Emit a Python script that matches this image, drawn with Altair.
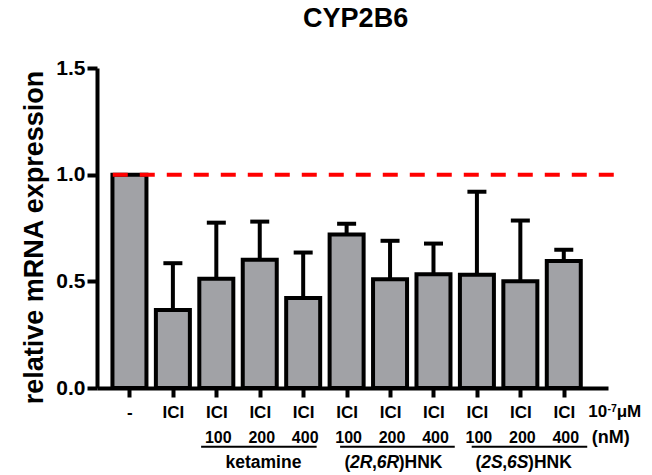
import json
import altair as alt
import pandas as pd

# ---------------- data ----------------
treatments = ["-", "ICI", "ICI", "ICI", "ICI", "ICI", "ICI", "ICI", "ICI", "ICI", "ICI"]
doses_nM = ["", "", "100", "200", "400", "100", "200", "400", "100", "200", "400"]
mean_expr = [1.00, 0.366, 0.512, 0.601, 0.422, 0.720, 0.510, 0.533, 0.531, 0.500, 0.595]
upper_err = [None, 0.585, 0.775, 0.780, 0.635, 0.770, 0.690, 0.677, 0.920, 0.785, 0.648]

group_names = ["ketamine", "(2R,6R)HNK", "(2S,6S)HNK"]
# (text piece, italic?) for each group label
group_segments = [
    [("ketamine", False)],
    [("(", False), ("2R", True), (",", False), ("6R", True), (")HNK", False)],
    [("(", False), ("2S", True), (",", False), ("6S", True), (")HNK", False)],
]
group_mid_bar = [3, 6, 9]
group_line_start = [1.65, 4.85, 7.88]
group_line_end = [4.31, 7.49, 10.54]

reference_level = 1.0
unit_row_text = ["10", "-7", "\u03bcM"]
dose_unit_text = "(nM)"
title_text = "CYP2B6"
y_title = "relative mRNA expression"

# ---------------- layout / style ----------------
FONT = "Liberation Sans"
W, H = 511, 320
X_DOMAIN = [-0.632, 10.903]
PX = W / (X_DOMAIN[1] - X_DOMAIN[0])   # pixels per bar step
BAR_FILL = "#a1a2a6"

# Arial/Liberation bold advance widths (per 1000 em)
ADV = {"(": 333, ")": 333, ",": 278, "2": 556, "6": 556, "R": 722, "S": 667,
       "H": 722, "N": 722, "K": 722, "k": 556, "e": 556, "t": 333, "a": 556,
       "m": 889, "i": 278, "n": 611}
GROUP_FS = 17.5

df = pd.DataFrame({
    "bar": list(range(len(treatments))),
    "treat": treatments,
    "dose": doses_nM,
    "mean": mean_expr,
    "upper": upper_err,
})

seg_rows = []
for g, segs in enumerate(group_segments):
    widths = [sum(ADV[c] for c in s) / 1000 * GROUP_FS for s, _ in segs]
    cum = -sum(widths) / 2 + 3
    for (s, it), w in zip(segs, widths):
        seg_rows.append({"seg": s, "italic": it, "bar": group_mid_bar[g], "off": cum})
        cum += w
seg_df = pd.DataFrame(seg_rows)

grp_df = pd.DataFrame({"name": group_names, "start": group_line_start, "end": group_line_end})
ref_df = pd.DataFrame({"x0": [-0.384], "x1": [11.29], "level": [reference_level]})
unit_df = pd.DataFrame({"t": unit_row_text, "bar": [10, 10, 10], "off": [25, 44.5, 54]})
title_df = pd.DataFrame({"t": [title_text], "bar": [5]})

x_scale = alt.Scale(domain=X_DOMAIN, nice=False, zero=False)
y_scale = alt.Scale(domain=[0, 1.5], nice=False)

label_expr = "[" + ",".join(json.dumps(t) for t in treatments) + "][datum.value]"

x_axis = alt.Axis(
    values=list(range(len(treatments))), labelExpr=label_expr, title=None, grid=False,
    tickSize=9, tickWidth=4, tickColor="black", domainColor="black", domainWidth=4,
    labelFont=FONT, labelFontSize=17, labelFontWeight="bold", labelColor="black",
    labelBaseline="alphabetic", labelPadding=20, labelFlush=False, labelOverlap=False,
)
y_axis = alt.Axis(
    values=[0, 0.5, 1.0, 1.5], format=".1f", title=y_title, grid=False,
    tickSize=10, tickWidth=4, tickColor="black", domainColor="black", domainWidth=4,
    labelFont=FONT, labelFontSize=21, labelFontWeight="bold", labelColor="black",
    labelPadding=2, labelFlush=False,
    titleFont=FONT, titleFontSize=27, titleFontWeight="bold", titleColor="black",
    titleX=-49, titleY=169,
)

base = alt.Chart(df)

bars = base.mark_bar(size=34, orient="vertical", fill=BAR_FILL, stroke="black",
                     strokeWidth=4).encode(
    x=alt.X("bar:Q", scale=x_scale, axis=x_axis),
    y=alt.Y("mean:Q", scale=y_scale, axis=y_axis),
)

err = base.transform_filter("isValid(datum.upper)")
err_rule = err.mark_rule(strokeWidth=4, color="black").encode(
    x="bar:Q", y="mean:Q", y2="upper:Q")
err_cap = err.mark_tick(orient="horizontal", size=19, thickness=4, color="black",
                        opacity=1).encode(x="bar:Q", y="upper:Q")

red = alt.Chart(ref_df).mark_rule(color="#ff0000", strokeWidth=4, strokeDash=[15, 12],
                                  clip=False).encode(x="x0:Q", x2="x1:Q", y="level:Q")

dose_txt = base.transform_filter("datum.dose != ''").mark_text(
    font=FONT, fontSize=16, fontWeight="bold", baseline="alphabetic", dx=2, color="black"
).encode(x="bar:Q", y=alt.value(375.3), text="dose:N")

nm_txt = alt.Chart(pd.DataFrame({"t": [dose_unit_text], "bar": [10]})).mark_text(
    font=FONT, fontSize=18, fontWeight="bold", baseline="alphabetic", align="left",
    dx=28, color="black"
).encode(x="bar:Q", y=alt.value(375.3), text="t:N")

underline = alt.Chart(grp_df).mark_rule(strokeWidth=2, color="black").encode(
    x="start:Q", x2="end:Q", y=alt.value(378.7))

shift = f"datum.bar + datum.off / {PX}"

seg_normal = alt.Chart(seg_df).transform_filter("!datum.italic").transform_calculate(
    xp=shift).mark_text(
    font=FONT, fontSize=GROUP_FS, fontWeight="bold", baseline="alphabetic", align="left",
    color="black"
).encode(x="xp:Q", y=alt.value(400), text="seg:N")
seg_italic = alt.Chart(seg_df).transform_filter("datum.italic").transform_calculate(
    xp=shift).mark_text(
    font=FONT, fontSize=GROUP_FS, fontWeight="bold", fontStyle="italic",
    baseline="alphabetic", align="left", color="black"
).encode(x="xp:Q", y=alt.value(400), text="seg:N")

unit_main = alt.Chart(unit_df).transform_filter("datum.t != '-7'").transform_calculate(
    xp=shift).mark_text(
    font=FONT, fontSize=17, fontWeight="bold", baseline="alphabetic", align="left",
    color="black"
).encode(x="xp:Q", y=alt.value(348.7), text="t:N")
unit_sup = alt.Chart(unit_df).transform_filter("datum.t == '-7'").transform_calculate(
    xp=shift).mark_text(
    font=FONT, fontSize=10.5, fontWeight="bold", baseline="alphabetic", align="left",
    color="black"
).encode(x="xp:Q", y=alt.value(343.7), text="t:N")

title = alt.Chart(title_df).mark_text(
    font=FONT, fontSize=27, fontWeight="bold", baseline="alphabetic", align="center",
    dx=9, color="black"
).encode(x="bar:Q", y=alt.value(-41), text="t:N")

chart = alt.layer(
    bars, err_rule, err_cap, red, dose_txt, nm_txt, underline,
    seg_normal, seg_italic, unit_main, unit_sup, title,
).properties(
    width=W, height=H,
    background="white",
    autosize=alt.AutoSizeParams(type="none"),
    padding={"left": 89, "top": 60, "right": 36, "bottom": 86},
).configure_view(strokeWidth=0, stroke="transparent")

chart.save("out.html", embed_options={"renderer": "svg", "actions": False})
